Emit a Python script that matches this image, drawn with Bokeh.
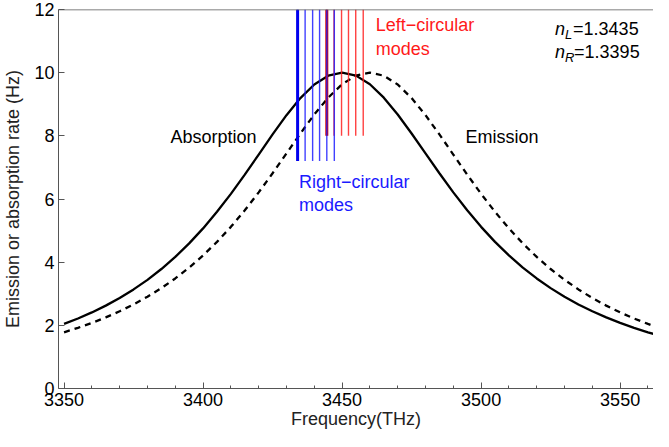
from bokeh.plotting import figure
from bokeh.models import Range1d, FixedTicker, Span
from bokeh.core.properties import value
from bokeh.embed import file_html
from bokeh.resources import INLINE

# ---- data ----
freq = [3350, 3355, 3360, 3365, 3370, 3375, 3380, 3385, 3390, 3395,
        3400, 3405, 3410, 3415, 3420, 3425, 3430, 3435, 3440, 3445,
        3450, 3455, 3460, 3465, 3470, 3475, 3480, 3485, 3490, 3495,
        3500, 3505, 3510, 3515, 3520, 3525, 3530, 3535, 3540, 3545,
        3550, 3555, 3560, 3562]
solid_rate = [2.045, 2.217, 2.409, 2.624, 2.865, 3.137, 3.441, 3.783, 4.166, 4.594,
              5.069, 5.594, 6.163, 6.772, 7.407, 8.044, 8.654, 9.195, 9.626, 9.904,
              10.0, 9.906, 9.633, 9.209, 8.676, 8.074, 7.444, 6.815, 6.209, 5.642,
              5.118, 4.642, 4.213, 3.828, 3.485, 3.178, 2.906, 2.662, 2.445, 2.251,
              2.077, 1.921, 1.780, 1.728]
dashed_rate = [1.780, 1.921, 2.077, 2.251, 2.445, 2.662, 2.906, 3.178, 3.485, 3.828,
               4.213, 4.642, 5.118, 5.642, 6.209, 6.815, 7.444, 8.074, 8.676, 9.209,
               9.633, 9.906, 10.0, 9.904, 9.626, 9.195, 8.654, 8.044, 7.407, 6.772,
               6.163, 5.594, 5.069, 4.594, 4.166, 3.783, 3.441, 3.137, 2.865, 2.624,
               2.409, 2.217, 2.045, 1.981]
blue_modes = [3434.0, 3436.7, 3439.4, 3441.9, 3444.5, 3447.2]
red_modes = [3444.5, 3447.1, 3449.8, 3452.3, 3454.9, 3457.6]
blue_bottom = 7.2
red_bottom = 8.0
mode_top = 12
x_ticks = [3350, 3400, 3450, 3500, 3550]
y_ticks = [0, 2, 4, 6, 8, 10, 12]
n_L = "1.3435"
n_R = "1.3395"

FONT = value("Liberation Sans")
FS = "18px"

p = figure(width=653, height=431,
           x_range=Range1d(3348, 3562), y_range=Range1d(0, 12),
           output_backend="svg", toolbar_location=None,
           min_border_left=50, min_border_right=0,
           min_border_top=9, min_border_bottom=0)
p.xgrid.visible = False
p.ygrid.visible = False
p.outline_line_color = None
p.background_fill_color = "white"
p.border_fill_color = "white"

for ax in (p.xaxis[0], p.yaxis[0]):
    ax.axis_line_color = "#555555"
    ax.major_tick_line_color = "#555555"
    ax.minor_tick_line_color = "#555555"
    ax.major_tick_in = 6
    ax.major_tick_out = 0
    ax.minor_tick_in = 3
    ax.minor_tick_out = 0
    ax.major_label_text_font = "Liberation Sans"
    ax.major_label_text_font_size = FS
    ax.major_label_text_color = "black"
    ax.axis_label_text_font = "Liberation Sans"
    ax.axis_label_text_font_size = FS
    ax.axis_label_text_font_style = "normal"
    ax.axis_label_text_color = "#222222"

p.xaxis.ticker = FixedTicker(ticks=x_ticks,
                             minor_ticks=list(range(3350, 3561, 10)))
p.yaxis.ticker = FixedTicker(ticks=y_ticks)
p.yaxis.minor_tick_in = 0
p.xaxis.major_label_standoff = 4
p.yaxis.major_label_standoff = 4
p.xaxis.axis_label = "Frequency(THz)"
p.yaxis.axis_label = "Emission or absorption rate (Hz)"
p.xaxis.axis_label_standoff = 0
p.yaxis.axis_label_standoff = 8

p.add_layout(Span(location=12, dimension="width", line_color="#555555", line_width=1.5))

# curves
p.line(freq, solid_rate, line_color="black", line_width=2.3)
p.line(freq, dashed_rate, line_color="black", line_width=2.3, line_dash="6 5")

# mode lines
nr = len(red_modes)
nb = len(blue_modes)
p.segment(x0=red_modes, y0=[red_bottom] * nr, x1=red_modes, y1=[mode_top] * nr,
          line_color="#ff2020", line_width=1.4, line_alpha=0.85)
p.segment(x0=[red_modes[0]], y0=[red_bottom], x1=[red_modes[0]], y1=[mode_top],
          line_color="#d00000", line_width=3)
p.segment(x0=blue_modes, y0=[blue_bottom] * nb, x1=blue_modes, y1=[mode_top] * nb,
          line_color="#2020ff", line_width=1.4, line_alpha=0.85)
p.segment(x0=[blue_modes[0]], y0=[blue_bottom], x1=[blue_modes[0]], y1=[mode_top],
          line_color="#0000ee", line_width=3)

# text labels
def txt(x, y, s, color="black", style="normal", size=FS, xo=0, yo=0):
    p.text(x=[x], y=[y], text=[s], text_color=color, text_font=FONT,
           text_font_size=size, text_font_style=style,
           text_baseline="middle", text_align="left", x_offset=xo, y_offset=yo)

txt(3462.1, 11.52, "Left\u2212circular", color="#ff1a1a")
txt(3462.1, 10.74, "modes", color="#ff1a1a")
txt(3434.5, 6.54, "Right\u2212circular", color="#1a1aff")
txt(3434.5, 5.81, "modes", color="#1a1aff")
txt(3388.3, 7.96, "Absorption")
txt(3494.4, 7.96, "Emission")

txt(3526.6, 11.37, "n", style="italic")
txt(3526.6, 11.37, "L", style="italic", size="13px", xo=10, yo=5)
txt(3526.6, 11.37, "=" + n_L, xo=18)
txt(3526.6, 10.64, "n", style="italic")
txt(3526.6, 10.64, "R", style="italic", size="13px", xo=10, yo=5)
txt(3526.6, 10.64, "=" + n_R, xo=19)

open("out.html", "w").write(file_html(p, INLINE))
